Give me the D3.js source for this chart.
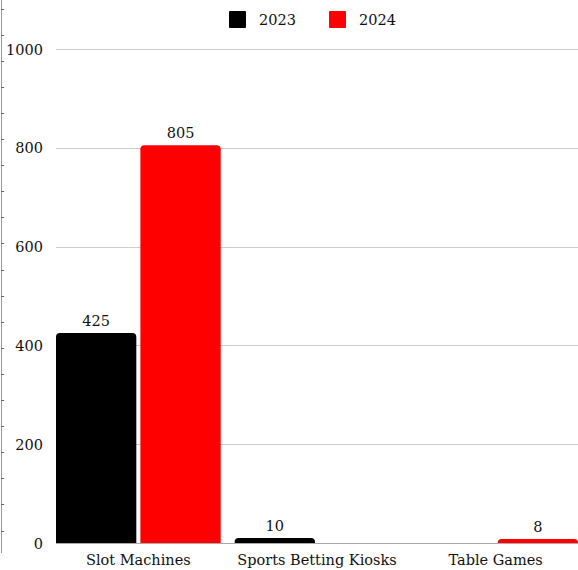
<!DOCTYPE html>
<html><head><meta charset="utf-8">
<script src="https://cdn.jsdelivr.net/npm/d3@7"></script>
<style>body{margin:0;background:#fff}svg{display:block}text{font-family:"DejaVu Serif","Liberation Serif",serif;fill:#111}</style>
</head><body><svg id="c" width="578" height="570"></svg>
<script>
const categories = ["Slot Machines", "Sports Betting Kiosks", "Table Games"];
const seriesNames = ["2023", "2024"];
const values2023 = [425, 10, 0];
const values2024 = [805, 0, 8];
const yTicks = [0, 200, 400, 600, 800, 1000];
const colors = ["#000000", "#ff0000"];

const svg = d3.select("#c");
const x0 = d3.scaleBand().domain(categories).range([56, 578]).paddingInner(0.078).paddingOuter(0);
const x1 = d3.scaleBand().domain(seriesNames).range([0, x0.bandwidth()]).paddingInner(0.048);
const y = d3.scaleLinear().domain([0, 1000]).range([543, 49]);
const FS = 14.5;

// left ruler-like edge
svg.append("line").attr("x1",1.5).attr("x2",1.5).attr("y1",0).attr("y2",553).attr("stroke","#999").attr("stroke-width",1);
const ruler = d3.scaleLinear().domain([0,20]).range([8.5,530.5]);
svg.selectAll(".rt").data(d3.range(0,21)).join("line").attr("class","rt")
  .attr("x1",1).attr("x2",4).attr("y1",d=>Math.round(ruler(d))+0.5).attr("y2",d=>Math.round(ruler(d))+0.5)
  .attr("stroke","#666").attr("stroke-width",1);

// gridlines
svg.selectAll(".grid").data(yTicks.filter(d=>d>0)).join("line").attr("class","grid")
  .attr("x1",56).attr("x2",578).attr("y1",d=>Math.round(y(d))+0.5).attr("y2",d=>Math.round(y(d))+0.5)
  .attr("stroke","#cccccc").attr("stroke-width",1);

// y tick labels
svg.selectAll(".yl").data(yTicks).join("text").attr("class","yl")
  .attr("x",43).attr("y",d=>y(d)+5.5).attr("text-anchor","end").attr("font-size",FS).text(d=>d);

// bars
const data = categories.map((c,i)=>({c, v:[values2023[i], values2024[i]]}));
function topRounded(x, yTop, w, h, r){
  r = Math.min(r, h, w/2);
  return `M${x},${yTop+h}V${yTop+r}Q${x},${yTop} ${x+r},${yTop}H${x+w-r}Q${x+w},${yTop} ${x+w},${yTop+r}V${yTop+h}Z`;
}
const g = svg.selectAll(".grp").data(data).join("g").attr("transform",d=>`translate(${x0(d.c)},0)`);
g.selectAll("path").data(d=>d.v.map((v,j)=>({v,s:seriesNames[j],j})).filter(e=>e.v>0)).join("path")
  .attr("d",e=>topRounded(x1(e.s), y(e.v), x1.bandwidth(), y(0)-y(e.v), 4))
  .attr("fill",e=>colors[e.j]);
g.selectAll("text").data(d=>d.v.map((v,j)=>({v,s:seriesNames[j],j})).filter(e=>e.v>0)).join("text")
  .attr("x",e=>x1(e.s)+x1.bandwidth()/2).attr("y",e=>y(e.v)-7).attr("text-anchor","middle").attr("font-size",FS).text(e=>e.v);

// baseline
svg.append("line").attr("x1",56).attr("x2",578).attr("y1",543.5).attr("y2",543.5).attr("stroke","#aaaaaa").attr("stroke-width",1);

// x labels
svg.selectAll(".xl").data(categories).join("text").attr("class","xl")
  .attr("x",d=>x0(d)+x0.bandwidth()/2).attr("y",565).attr("text-anchor","middle").attr("font-size",FS).text(d=>d);

// legend
const legX = [229, 329];
seriesNames.forEach((s,i)=>{
  svg.append("rect").attr("x",legX[i]).attr("y",11).attr("width",17).attr("height",17).attr("rx",1).attr("fill",colors[i]);
  svg.append("text").attr("x",legX[i]+30).attr("y",25).attr("font-size",FS).text(s);
});
</script></body></html>
